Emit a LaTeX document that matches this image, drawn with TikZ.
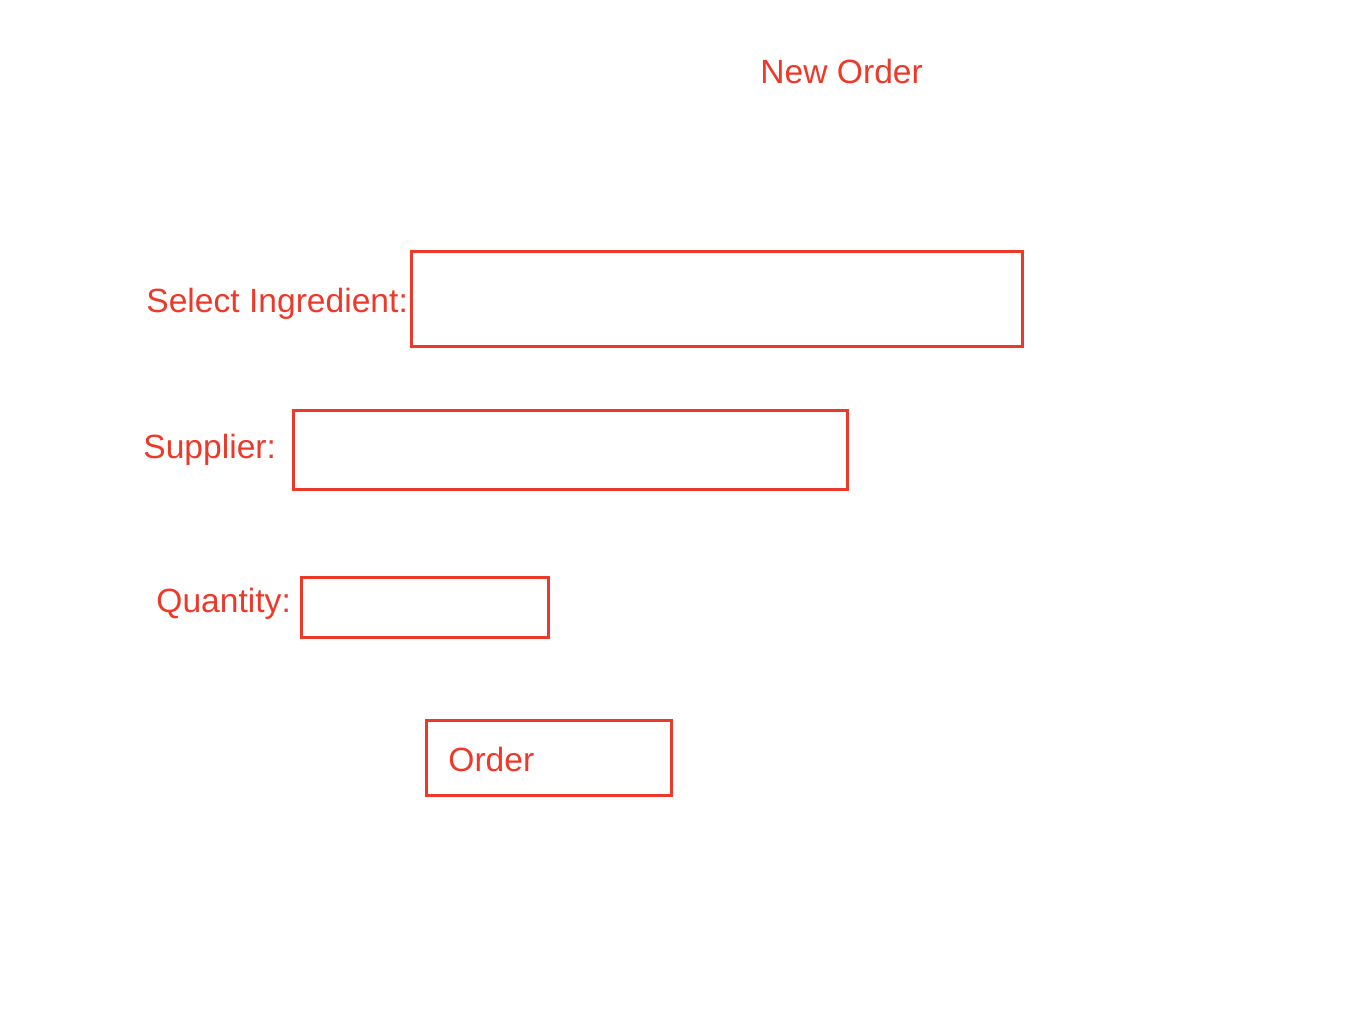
\documentclass[tikz,border=0pt]{standalone}
\usepackage{fontspec}
\usepackage{tikz}
\usepackage{xcolor}
\setmainfont{Liberation Sans}
\definecolor{formred}{RGB}{237,57,42}

\begin{document}
\begin{tikzpicture}[x=0.5pt,y=-0.5pt]%
  \tikzstyle{fieldbox}=[rectangle,draw=formred,line width=1.5pt,inner sep=0]
  \tikzstyle{lbl}=[text=formred,inner sep=0,anchor=base west,font=\fontsize{16.8}{20}\selectfont]
  \useasboundingbox (0,0) rectangle (1352,1026);
  % title
  \node(title)[lbl] at (760,84) {New Order};
  % input fields
  \node(ingbox)[fieldbox,minimum width=305.5pt,minimum height=47pt] at (716.5,299) {};
  \node(supbox)[fieldbox,minimum width=277pt,minimum height=39.5pt] at (570,449.5) {};
  \node(qtybox)[fieldbox,minimum width=123.5pt,minimum height=30pt] at (424.5,607) {};
  %\node(ordbox) is the button
  \node(ordbox)[fieldbox,minimum width=122.5pt,minimum height=37.5pt] at (548.5,757.5) {};
  % labels
  \node(ing)[lbl] at (146,313) {Select Ingredient:};
  \node(sup)[lbl] at (143,458) {Supplier:};
  \node(qty)[lbl] at (156,612) {Quantity:};
  \node(ord)[lbl] at (448,771) {Order};
\end{tikzpicture}
\end{document}
